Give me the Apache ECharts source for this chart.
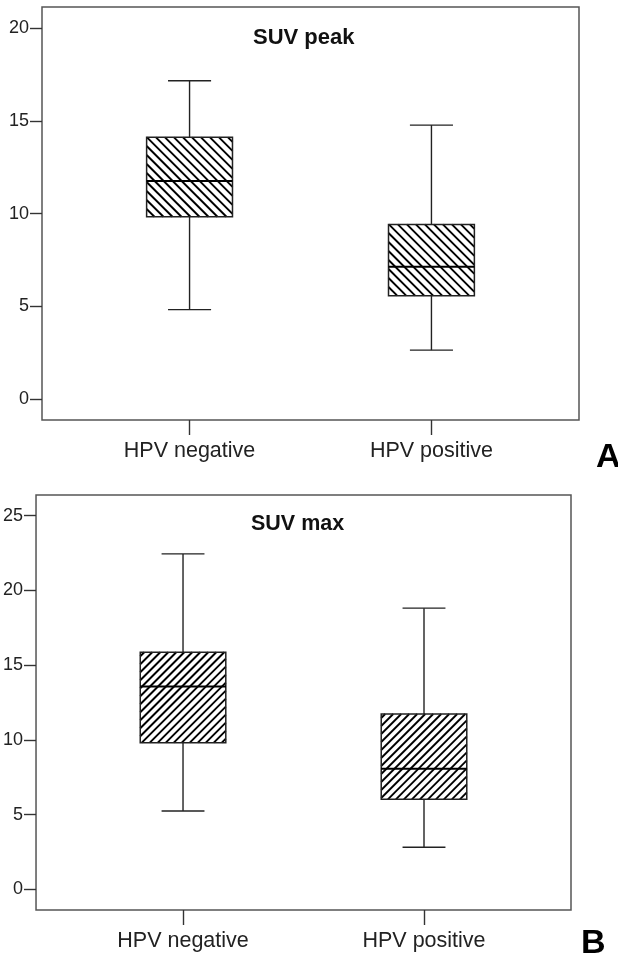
<!DOCTYPE html>
<html>
<head>
<meta charset="utf-8">
<script src="https://cdn.jsdelivr.net/npm/echarts@6/dist/echarts.min.js"></script>
<style>
  html, body { margin: 0; padding: 0; background: #fff; }
  #main { width: 618px; height: 958px; }
</style>
</head>
<body>
<div id="main"></div>
<script>
// groups on the x axis
var groups = ['HPV negative', 'HPV positive'];

// panel A: SUV peak
var peakMin = [4.83, 2.65];
var peakQ1 = [9.83, 5.58];
var peakMedian = [11.76, 7.14];
var peakQ3 = [14.11, 9.42];
var peakMax = [17.16, 14.77];
var peakTicks = [0, 5, 10, 15, 20];

// panel B: SUV max
var maxMin = [5.24, 2.81];
var maxQ1 = [9.81, 6.02];
var maxMedian = [13.56, 8.07];
var maxQ3 = [15.86, 11.73];
var maxMax = [22.44, 18.81];
var maxTicks = [0, 5, 10, 15, 20, 25];

var FONT = 'Liberation Sans, Arial, sans-serif';
var BOX_W = 0.355;   // box width, in x units
var CAP_W = 0.178;   // whisker cap width

function buildData(mn, q1, md, q3, mx) {
    return groups.map(function (g, i) {
        return [i, mn[i], q1[i], md[i], q3[i], mx[i]];
    });
}

// hatch: dir 1 = "\\", dir -1 = "/"
function hatchLines(x0, y0, x1, y1, step, dir) {
    var out = [];
    var c, xa, xb;
    if (dir > 0) {
        for (c = y0 - x1 + step / 2; c < y1 - x0; c += step) {
            xa = Math.max(x0, y0 - c);
            xb = Math.min(x1, y1 - c);
            if (xb > xa) out.push([xa, xa + c, xb, xb + c]);
        }
    } else {
        for (c = x0 + y0 + step / 2; c < x1 + y1; c += step) {
            xa = Math.max(x0, c - y1);
            xb = Math.min(x1, c - y0);
            if (xb > xa) out.push([xa, c - xa, xb, c - xb]);
        }
    }
    return out;
}

function boxRenderer(dir, step) {
    return function (params, api) {
        var x = api.value(0);
        var lo = api.coord([x, api.value(1)]);
        var q1 = api.coord([x, api.value(2)]);
        var md = api.coord([x, api.value(3)]);
        var q3 = api.coord([x, api.value(4)]);
        var hi = api.coord([x, api.value(5)]);
        var half = api.size([BOX_W, 0])[0] / 2;
        var cap = api.size([CAP_W, 0])[0] / 2;
        var cx = lo[0];
        var x0 = cx - half, x1 = cx + half, y0 = q3[1], y1 = q1[1];
        var lineStyle = { stroke: '#222', lineWidth: 1.4 };
        var kids = [];
        kids.push({ type: 'line', shape: { x1: cx, y1: hi[1], x2: cx, y2: y0 }, style: lineStyle });
        kids.push({ type: 'line', shape: { x1: cx, y1: y1, x2: cx, y2: lo[1] }, style: lineStyle });
        kids.push({ type: 'line', shape: { x1: cx - cap, y1: hi[1], x2: cx + cap, y2: hi[1] }, style: lineStyle });
        kids.push({ type: 'line', shape: { x1: cx - cap, y1: lo[1], x2: cx + cap, y2: lo[1] }, style: lineStyle });
        kids.push({ type: 'rect', shape: { x: x0, y: y0, width: x1 - x0, height: y1 - y0 }, style: { fill: '#fff' } });
        hatchLines(x0, y0, x1, y1, step, dir).forEach(function (s) {
            kids.push({ type: 'line', shape: { x1: s[0], y1: s[1], x2: s[2], y2: s[3] }, style: { stroke: '#000', lineWidth: 1.9 } });
        });
        kids.push({ type: 'rect', shape: { x: x0, y: y0, width: x1 - x0, height: y1 - y0 }, style: { fill: 'none', stroke: '#222', lineWidth: 1.5 } });
        kids.push({ type: 'line', shape: { x1: x0, y1: md[1], x2: x1, y2: md[1] }, style: { stroke: '#000', lineWidth: 2 } });
        return { type: 'group', children: kids };
    };
}

function xAxisFor(idx) {
    return {
        type: 'value', gridIndex: idx, min: -0.61, max: 1.61,
        splitLine: { show: false },
        axisLine: { show: false, onZero: false },
        axisTick: { customValues: [0, 1], length: 15, lineStyle: { color: '#333', width: 1.4 } },
        axisLabel: {
            customValues: [0, 1], margin: 20,
            formatter: function (v) { return groups[Math.round(v)]; },
            fontFamily: FONT, fontSize: 21.5, color: '#222'
        }
    };
}

function yAxisFor(idx, mn, mx, ticks) {
    return {
        type: 'value', gridIndex: idx, min: mn, max: mx,
        splitLine: { show: false },
        axisLine: { show: false, onZero: false },
        axisTick: { customValues: ticks, length: 12, lineStyle: { color: '#333', width: 1.4 } },
        axisLabel: { customValues: ticks, margin: 13, fontFamily: FONT, fontSize: 18, color: '#222' }
    };
}

var chart = echarts.init(document.getElementById('main'));
var option = {
    backgroundColor: '#fff',
    animation: false,
    title: [
        { text: 'SUV peak', left: 248, top: 22, textStyle: { fontFamily: FONT, fontSize: 22, fontWeight: 'bold', color: '#111' } },
        { text: 'SUV max', left: 246, top: 508, textStyle: { fontFamily: FONT, fontSize: 21.5, fontWeight: 'bold', color: '#111' } },
        { text: 'A', left: 596, top: 441, padding: 0, textStyle: { fontFamily: FONT, fontSize: 34, fontWeight: 'bold', color: '#000' } },
        { text: 'B', left: 581, top: 927, padding: 0, textStyle: { fontFamily: FONT, fontSize: 34, fontWeight: 'bold', color: '#000' } }
    ],
    grid: [
        { left: 42, top: 7, width: 537, height: 413, show: true, borderColor: '#555', borderWidth: 1.5, backgroundColor: '#fff' },
        { left: 35, top: 495, width: 536, height: 415, show: true, borderColor: '#555', borderWidth: 1.5, backgroundColor: '#fff' }
    ],
    xAxis: [xAxisFor(0), xAxisFor(1)],
    yAxis: [
        yAxisFor(0, -1.115, 21.13, peakTicks),
        yAxisFor(1, -1.385, 26.38, maxTicks)
    ],
    series: [
        {
            name: 'SUV peak', type: 'custom', xAxisIndex: 0, yAxisIndex: 0,
            renderItem: boxRenderer(1, 9),
            encode: { x: 0, y: [1, 2, 3, 4, 5] },
            data: buildData(peakMin, peakQ1, peakMedian, peakQ3, peakMax)
        },
        {
            name: 'SUV max', type: 'custom', xAxisIndex: 1, yAxisIndex: 1,
            renderItem: boxRenderer(-1, 8),
            encode: { x: 0, y: [1, 2, 3, 4, 5] },
            data: buildData(maxMin, maxQ1, maxMedian, maxQ3, maxMax)
        }
    ]
};
chart.setOption(option);
</script>
</body>
</html>
